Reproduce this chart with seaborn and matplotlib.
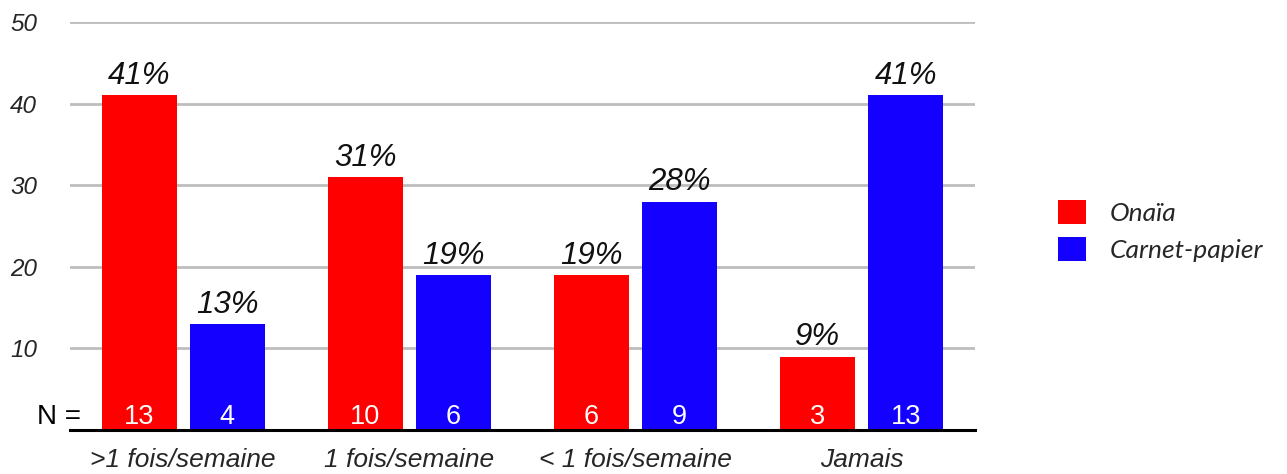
import matplotlib
matplotlib.use("Agg")
import matplotlib.pyplot as plt
import seaborn as sns
import pandas as pd
from matplotlib.patches import Patch

categories = [">1 fois/semaine", "1 fois/semaine", "< 1 fois/semaine", "Jamais"]
series_names = ["Onaïa", "Carnet-papier"]
onaia_pct = [41, 31, 19, 9]
carnet_pct = [13, 19, 28, 41]
onaia_n = [13, 10, 6, 3]
carnet_n = [4, 6, 9, 13]
yticks = [10, 20, 30, 40, 50]

colors = {"Onaïa": "#FF0000", "Carnet-papier": "#1400FF"}

df = pd.DataFrame({
    "cat": categories * 2,
    "serie": [series_names[0]] * 4 + [series_names[1]] * 4,
    "pct": onaia_pct + carnet_pct,
    "n": onaia_n + carnet_n,
})

sns.set_theme(style="white")
plt.rcParams["font.family"] = ["Liberation Sans", "DejaVu Sans"]

fig = plt.figure(figsize=(12.87, 4.74), dpi=100)
ax = fig.add_axes([70/1287, 44/474, 905/1287, 408/474])

sns.barplot(data=df, x="cat", y="pct", hue="serie", order=categories,
            hue_order=series_names, palette=colors, width=0.78, gap=0.15,
            saturation=1, legend=False, ax=ax, zorder=3,
            linewidth=0, edgecolor="none")

ax.set_ylim(0, 50)
ax.set_xlim(-0.5, 3.5)
ax.set_yticks(yticks)
ax.set_yticklabels([str(v) for v in yticks], fontsize=17.5, style="italic")
ax.yaxis.grid(True, color="#bdbdbd", linewidth=2, zorder=0)
ax.set_axisbelow(True)
for s in ["top", "right", "left"]:
    ax.spines[s].set_visible(False)
ax.spines["bottom"].set_color("black")
ax.spines["bottom"].set_linewidth(2.2)
ax.spines["bottom"].set_zorder(5)
ax.tick_params(axis="y", length=0, pad=43)
ax.tick_params(axis="x", length=0, pad=13)
for lab in ax.get_yticklabels():
    lab.set_horizontalalignment("left")
ax.set_xticklabels(categories, fontsize=19, style="italic")
ax.set_xlabel("")
ax.set_ylabel("")

# annotations
for container, pcts, ns in zip(ax.containers, [onaia_pct, carnet_pct], [onaia_n, carnet_n]):
    for bar, p, n in zip(container, pcts, ns):
        cx = bar.get_x() + bar.get_width() / 2
        ax.annotate(f"{p}%", (cx, bar.get_height()), xytext=(0, 3),
                    textcoords="offset points", ha="center", va="bottom",
                    fontsize=22.5, style="italic", color="#111111")
        ax.annotate(str(n), (cx, 0), xytext=(0, 0), textcoords="offset points",
                    ha="center", va="bottom", fontsize=19.5, color="white", zorder=6)

ax.annotate("N =", (-0.5, 0), xytext=(-24, 0), textcoords="offset points",
            ha="left", va="bottom", fontsize=20, color="black", annotation_clip=False)

handles = [Patch(facecolor=colors[s], edgecolor="none") for s in series_names]
leg = fig.legend(handles, series_names, loc="center left",
                 bbox_to_anchor=(1040/1287, 1 - 231/474), frameon=False,
                 prop={"family": "Lato", "style": "italic", "size": 19},
                 handlelength=1.05, handleheight=1.05, handletextpad=0.9,
                 labelspacing=0.45, borderpad=0.2)

fig.savefig("out.png", dpi=100)
